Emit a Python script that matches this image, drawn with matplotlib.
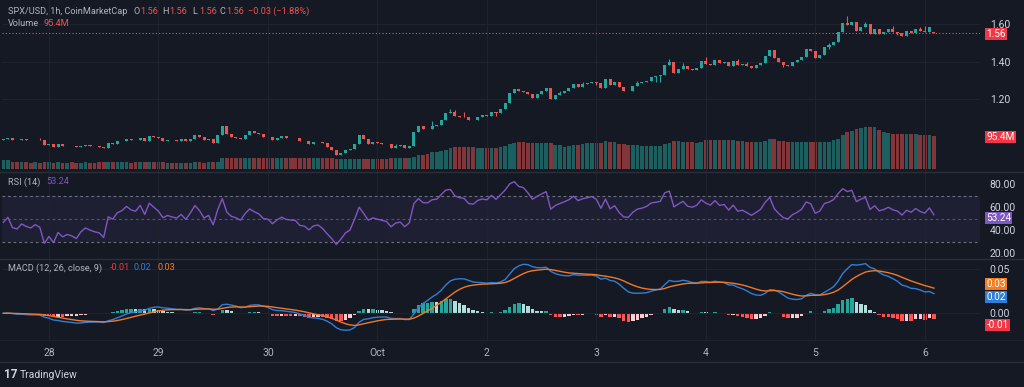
import numpy as np
import pandas as pd
import matplotlib
matplotlib.use('Agg')
import matplotlib.pyplot as plt
from matplotlib.lines import Line2D
from matplotlib.transforms import blended_transform_factory, offset_copy

plt.rcParams['font.family'] = ['Roboto', 'DejaVu Sans']

# ---- data (hourly candles, 27 Sep 14:00 -> 6 Oct 02:00) ----
closes = [
    0.987, 0.992, 0.980, 0.978, 0.983, 0.980, 0.978, 0.981, 0.978, 0.951,
    0.958, 0.944, 0.956, 0.946, 0.949, 0.946, 0.940, 0.948, 0.953, 0.949,
    0.946, 0.944, 0.935, 0.964, 0.960, 0.972, 0.976, 0.985, 0.980, 0.978,
    0.990, 0.976, 1.003, 0.996, 0.989, 0.976, 0.981, 0.978, 0.976, 0.983,
    0.974, 0.987, 1.005, 0.996, 0.981, 0.987, 0.965, 1.006, 1.053, 1.012,
    0.997, 0.992, 0.983, 1.008, 1.028, 1.019, 1.012, 0.996, 0.994, 0.978,
    0.990, 0.999, 0.992, 0.990, 0.989, 0.974, 0.972, 0.960, 0.969, 0.971,
    0.961, 0.944, 0.926, 0.899, 0.910, 0.924, 0.931, 0.960, 1.005, 0.985,
    0.960, 0.969, 0.964, 0.960, 0.956, 0.937, 0.948, 0.951, 0.935, 0.946,
    1.023, 1.053, 1.040, 1.039, 1.057, 1.060, 1.089, 1.123, 1.128, 1.110,
    1.105, 1.103, 1.089, 1.087, 1.105, 1.112, 1.110, 1.132, 1.123, 1.146,
    1.176, 1.230, 1.255, 1.242, 1.239, 1.225, 1.207, 1.225, 1.241, 1.257,
    1.200, 1.221, 1.233, 1.244, 1.257, 1.280, 1.266, 1.278, 1.284, 1.292,
    1.284, 1.257, 1.309, 1.273, 1.292, 1.264, 1.244, 1.242, 1.267, 1.284,
    1.289, 1.298, 1.317, 1.321, 1.326, 1.382, 1.396, 1.341, 1.360, 1.378,
    1.359, 1.355, 1.366, 1.401, 1.389, 1.382, 1.410, 1.393, 1.398, 1.378,
    1.405, 1.382, 1.387, 1.378, 1.368, 1.380, 1.394, 1.430, 1.462, 1.421,
    1.400, 1.382, 1.376, 1.396, 1.407, 1.423, 1.466, 1.459, 1.421, 1.434,
    1.480, 1.489, 1.507, 1.557, 1.609, 1.598, 1.612, 1.566, 1.587, 1.602,
    1.546, 1.575, 1.548, 1.557, 1.573, 1.561, 1.555, 1.536, 1.564, 1.555,
    1.577, 1.564, 1.557, 1.586, 1.556,
]
first_open = 0.982
last_open = 1.5565

wick_highs = {8: 0.992, 86: 0.958, 94: 1.080, 98: 1.148, 99: 1.141, 101: 1.132,
              122: 1.244, 127: 1.291, 139: 1.294, 146: 1.416, 149: 1.391,
              154: 1.423, 161: 1.416, 163: 1.400, 181: 1.498, 185: 1.646,
              189: 1.611, 195: 1.591, 201: 1.587, 202: 1.593}
wick_lows = {108: 1.110, 130: 1.273, 143: 1.291, 144: 1.291, 171: 1.369,
             181: 1.468, 196: 1.543}

volumes = [
    26, 26, 21, 21, 20, 20, 19, 20, 19, 21,
    20, 19, 20, 19, 19, 20, 19, 19, 20, 19,
    19, 20, 20, 21, 20, 20, 20, 20, 19, 20,
    20, 20, 21, 20, 20, 20, 19, 19, 19, 19,
    19, 19, 20, 20, 19, 20, 20, 22, 31, 32,
    32, 32, 32, 32, 33, 33, 33, 32, 32, 32,
    32, 32, 31, 32, 32, 32, 32, 31, 31, 31,
    32, 32, 31, 29, 29, 29, 29, 29, 29, 30,
    30, 30, 30, 30, 30, 31, 31, 31, 31, 32,
    36, 40, 42, 43, 50, 49, 52, 55, 60, 65,
    65, 65, 65, 63, 62, 60, 62, 62, 62, 64,
    68, 72, 76, 79, 77, 74, 76, 76, 74, 74,
    74, 70, 69, 65, 68, 71, 71, 72, 74, 76,
    76, 76, 80, 79, 77, 72, 72, 70, 70, 70,
    68, 68, 68, 68, 66, 72, 76, 81, 81, 79,
    77, 77, 74, 79, 84, 85, 85, 85, 83, 83,
    83, 81, 80, 79, 79, 79, 79, 81, 86, 86,
    81, 80, 79, 77, 77, 78, 78, 79, 77, 77,
    77, 77, 83, 88, 98, 106, 111, 115, 117, 121,
    121, 121, 113, 107, 105, 100, 100, 100, 102, 102,
    100, 98, 97, 97, 95.4,
]

day_ticks = [10, 34, 58, 82, 106, 130, 154, 178, 202]
day_labels = ['28', '29', '30', 'Oct', '2', '3', '4', '5', '6']
price_ticks = [1.20, 1.40, 1.60]
rsi_ticks = [20, 40, 60, 80]
macd_ticks = [0.00, 0.05]

rsi_seed_gain, rsi_seed_loss = 0.0022, 0.0025
rsi_last = 53.24
vol_last = 95.4
# last values shown on the MACD scale: histogram, macd, signal
macd_last_vals = [-0.0125, 0.0202, 0.0348]

# ---- derived series ----
closes = np.array(closes)
opens = np.r_[first_open, closes[:-1]]
opens[-1] = last_open
highs = np.maximum(opens, closes)
lows = np.minimum(opens, closes)
for k, v in wick_highs.items():
    highs[k] = v
for k, v in wick_lows.items():
    lows[k] = v
x = np.arange(len(closes))
up = closes >= opens

delta = np.diff(closes, prepend=closes[0])
ag, al = rsi_seed_gain, rsi_seed_loss
rsi = []
for d in delta:
    ag = ag * 13 / 14 + max(d, 0) / 14
    al = al * 13 / 14 + max(-d, 0) / 14
    rsi.append(100 - 100 / (1 + ag / al))
rsi = np.array(rsi)

s = pd.Series(closes)
macd = (s.ewm(span=12, adjust=False).mean() - s.ewm(span=26, adjust=False).mean()).values
signal = pd.Series(macd).ewm(span=9, adjust=False).mean().values
hist = macd - signal
prev = np.r_[hist[0], hist[:-1]]
hist_colors = np.where(hist >= 0,
                       np.where(hist > prev, '#26a69a', '#b2dfdb'),
                       np.where(hist > prev, '#ffcdd2', '#ff5252'))

# ---- style ----
BG = '#151924'
GRID = '#1f2330'
SEP = '#2a2e39'
TEXT = '#b2b5be'
UPC = '#26a69a'
DNC = '#ef5350'
BLUE = '#2f7ed8'
ORANGE = '#f0782a'
W, H = 1024, 387

fig = plt.figure(figsize=(W / 100, H / 100), dpi=100, facecolor=BG)


def rect(y0, y1):
    return [2 / W, 1 - y1 / H, 978 / W, (y1 - y0) / H]


ax_v = fig.add_axes(rect(0, 172))
ax_p = fig.add_axes(rect(0, 172))
ax_r = fig.add_axes(rect(172, 259))
ax_m = fig.add_axes(rect(259, 340))

xlim = (-0.29, 214.1)
for ax in (ax_v, ax_p, ax_r, ax_m):
    ax.set_facecolor('none')
    ax.set_xlim(*xlim)
    for sp in ax.spines.values():
        sp.set_visible(False)
    ax.set_xticks(day_ticks)
    ax.tick_params(axis='x', length=0, labelbottom=False)
    ax.tick_params(axis='y', length=0, labelsize=7.5, labelcolor='#d1d4dc', pad=7)
    ax.yaxis.tick_right()
ax_v.set_facecolor(BG)
ax_v.set_yticks([])
ax_v.grid(axis='x', color=GRID, lw=0.8)

# volume
ax_v.bar(x, volumes, width=0.8, color=np.where(up, UPC, DNC), alpha=0.5, lw=0)
ax_v.set_ylim(-7.7, 485)

# candles
ax_p.vlines(x, lows, highs, color=np.where(up, UPC, DNC), lw=0.8, zorder=3)
body = np.maximum(np.abs(closes - opens), 0.002)
ax_p.bar(x, body, bottom=np.minimum(opens, closes), width=0.66,
         color=np.where(up, UPC, DNC), lw=0, zorder=4)
ax_p.set_ylim(0.808, 1.7303)
ax_p.set_yticks(price_ticks)
ax_p.set_yticklabels([f'{t:.2f}' for t in price_ticks])
ax_p.grid(axis='y', color=GRID, lw=0.8)
ax_p.axhline(closes[-1], color=DNC, lw=0.8, ls=(0, (1, 2)), zorder=2)

# RSI
ax_r.set_ylim(15.06, 90.4)
ax_r.fill_between(xlim, 30, 70, color='#7e57c2', alpha=0.1, lw=0)
for lvl, a in ((70, 0.9), (50, 0.6), (30, 0.9)):
    ax_r.axhline(lvl, color='#787b86', lw=0.8, ls=(0, (2.5, 2.5)), alpha=a)
ax_r.plot(x, rsi, color='#7e57c2', lw=1)
ax_r.set_yticks(rsi_ticks)
ax_r.set_yticklabels([f'{t:.2f}' for t in rsi_ticks])
ax_r.grid(axis='x', color=GRID, lw=0.8)

# MACD
ax_m.set_ylim(-0.0303, 0.0617)
ax_m.bar(x, hist, width=0.75, color=hist_colors, lw=0)
ax_m.plot(x, macd, color=BLUE, lw=1)
ax_m.plot(x, signal, color=ORANGE, lw=1)
ax_m.set_yticks(macd_ticks)
ax_m.set_yticklabels([f'{t:.2f}' for t in macd_ticks])
ax_m.grid(color=GRID, lw=0.8)
ax_m.tick_params(axis='x', labelbottom=True, labelsize=7.5, labelcolor=TEXT, pad=6)
ax_m.set_xticklabels(day_labels)


def value_box(ax, y, s, fc, dy=0):
    tr = blended_transform_factory(ax.transAxes, ax.transData)
    tr = offset_copy(tr, fig=fig, y=dy, units='points')
    ax.text(1.0065, y, s, transform=tr, ha='left', va='center_baseline', fontsize=7.2,
            color='white', clip_on=False, zorder=10,
            bbox=dict(boxstyle='square,pad=0.1', fc=fc, ec='none'))


# volume value box lives on the price axes so it sits above the price labels
vol_to_price = ax_p.transData.inverted().transform(ax_v.transData.transform((0, vol_last)))[1]
value_box(ax_p, closes[-1], f'{closes[-1]:.2f}', '#f23645')
value_box(ax_p, vol_to_price, f'{vol_last}M', '#f23645')
value_box(ax_r, rsi_last, f'{rsi_last:.2f}', '#7e57c2', dy=-1.5)
h_last, m_last, s_last = macd_last_vals
value_box(ax_m, s_last, f'{s_last:.2f}', '#f57c1f')
value_box(ax_m, m_last, f'{m_last:.2f}', BLUE)
value_box(ax_m, h_last, f'{h_last:.2f}', '#f23645')

# separators
for yy in (172, 259, 362):
    fig.add_artist(Line2D([0, 1], [1 - yy / H] * 2, color=SEP, lw=1))
fig.add_artist(Line2D([0, 1], [1 - 340 / H] * 2, color=SEP, lw=0.6, alpha=0.6))


def ftext(px, py, s, color=TEXT, size=6.6, **kw):
    fig.text(px / W, 1 - py / H, s, color=color, fontsize=size, va='center', ha='left', **kw)


# legends
ftext(8, 11, 'SPX/USD, 1h, CoinMarketCap')
for px, lab in ((133, 'O'), (162, 'H'), (192, 'L'), (219, 'C')):
    ftext(px, 11, lab)
    ftext(px + 7, 11, '1.56', DNC)
ftext(248, 11, '\u22120.03 (\u22121.88%)', DNC)
ftext(8, 24, 'Volume')
ftext(44, 24, '95.4M', DNC)

ftext(8, 182, 'RSI (14)')
ftext(46, 182, f'{rsi_last:.2f}', '#7e57c2')

ftext(8, 268, 'MACD (12, 26, close, 9)')
ftext(110, 268, f'{h_last:.2f}', '#f23645')
ftext(134, 268, f'{m_last:.2f}', BLUE)
ftext(158, 268, f'{s_last:.2f}', '#f57c1f')

ftext(4, 375, '17', '#d1d4dc', size=8.5, fontweight='bold')
ftext(20, 375, 'TradingView', '#d1d4dc', size=7.5)

fig.savefig('out.png', dpi=100, facecolor=BG)
